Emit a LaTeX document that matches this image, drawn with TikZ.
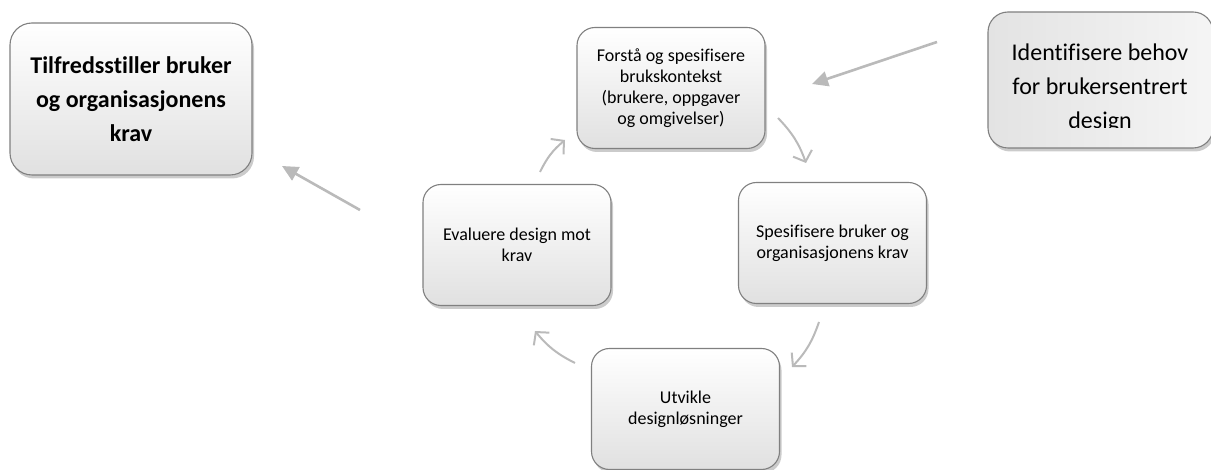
\documentclass[tikz,border=0pt]{standalone}
\usepackage{fontspec}
\setmainfont{Carlito}[Ligatures=CommonOff]
\usepackage{tikz}
\usetikzlibrary{arrows.meta, shadows, calc}
\tikzstyle{stage}   = [rectangle, draw=black!50, line width=1.1pt, rounded corners=18pt,
                        top color=white, bottom color=black!12, inner sep=0pt,
                        minimum width=188pt, minimum height=121pt, align=center,
                        font=\fontsize{18}{21}\selectfont,
                        drop shadow={shadow xshift=2pt, shadow yshift=-3.5pt, opacity=0.45, fill=black!45}]
\tikzstyle{goal}    = [stage, rounded corners=22pt, minimum width=242pt, minimum height=152pt,
                        font=\fontsize{24}{34}\selectfont\bfseries]
\tikzstyle{need}    = [stage, rounded corners=20pt, minimum width=225pt, minimum height=136pt,
                        left color=black!11, right color=black!4]
\tikzstyle{flow}    = [-{Triangle[length=16pt, width=15pt]}, draw=black!27, line width=2.6pt]
\tikzstyle{cycle}   = [-{Straight Barb[length=9pt, width=20pt, line width=2pt]}, draw=black!27,
                        line width=2pt, bend left=12]

\begin{document}
\begin{tikzpicture}[x=1pt, y=-1pt]
  \useasboundingbox (0,0) rectangle (1211,470);

  \node[goal] (krav) at (131,99) {Tilfredsstiller bruker\\og organisasjonens\\krav};
  \node[stage] (kontekst) at (671,88) {Forstå og spesifisere\\brukskontekst\\(brukere, oppgaver\\og omgivelser)};
  \node[need] (behov) at (1100.5,80) {};
  \node[stage] (spesifisere) at (832.5,243) {Spesifisere bruker og\\organisasjonens krav};
  \node[stage] (evaluere) at (517,245) {Evaluere design mot\\krav};
  \node[stage] (utvikle) at (685.5,409) {Utvikle\\designløsninger};

  % text that runs over the bottom of the box is cut off
  \begin{scope}
    \clip (behov.north west) rectangle ($(behov.south east)+(0,-21)$);
    \node[align=center, font=\fontsize{24}{34}\selectfont] (behovtekst) at (1100,88)
      {Identifisere behov\\for brukersentrert\\design};
  \end{scope}

  \coordinate (a1s) at (937,42);  \coordinate (a1e) at (812,84);
  \coordinate (a2s) at (360,210); \coordinate (a2e) at (282,166);
  \coordinate (c1s) at (778,118); \coordinate (c1e) at (806,163);
  \coordinate (c2s) at (819,322); \coordinate (c2e) at (792,367);
  \coordinate (c3s) at (575,363); \coordinate (c3e) at (535,331);
  \coordinate (c4s) at (540,172); \coordinate (c4e) at (565,140);

  \draw[flow] (a1s) -- (a1e);
  \draw[flow] (a2s) -- (a2e);
  \draw[cycle] (c1s) to (c1e);
  \draw[cycle] (c2s) to (c2e);
  \draw[cycle] (c3s) to (c3e);
  \draw[cycle] (c4s) to (c4e);
\end{tikzpicture}
\end{document}
